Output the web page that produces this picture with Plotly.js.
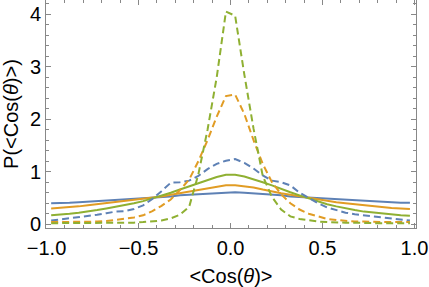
<!DOCTYPE html>
<html>
<head>
<meta charset="utf-8">
<script src="https://cdn.plot.ly/plotly-3.0.1.min.js"></script>
<style>html,body{margin:0;padding:0;background:#fff;}#chart{width:429px;height:287px;}</style>
</head>
<body>
<div id="chart"></div>
<script>
// bin centres of <Cos(theta)>
const cosBins = [-0.975,-0.925,-0.875,-0.825,-0.775,-0.725,-0.675,-0.625,-0.575,-0.525,
  -0.475,-0.425,-0.375,-0.325,-0.275,-0.225,-0.175,-0.125,-0.075,-0.025,
  0.025,0.075,0.125,0.175,0.225,0.275,0.325,0.375,0.425,0.475,
  0.525,0.575,0.625,0.675,0.725,0.775,0.825,0.875,0.925,0.975];

const blueSolid = [0.40,0.40,0.41,0.42,0.43,0.44,0.45,0.46,0.47,0.48,
  0.49,0.50,0.52,0.53,0.55,0.56,0.58,0.59,0.60,0.61,
  0.61,0.60,0.59,0.57,0.56,0.55,0.53,0.52,0.50,0.49,
  0.48,0.47,0.46,0.45,0.44,0.43,0.42,0.42,0.41,0.41];
const orangeSolid = [0.30,0.31,0.33,0.34,0.36,0.38,0.40,0.42,0.44,0.46,
  0.48,0.51,0.53,0.56,0.59,0.63,0.66,0.69,0.72,0.74,
  0.74,0.72,0.70,0.66,0.62,0.59,0.56,0.53,0.50,0.47,
  0.44,0.42,0.40,0.38,0.36,0.34,0.33,0.31,0.30,0.29];
const greenSolid = [0.17,0.18,0.20,0.22,0.24,0.27,0.30,0.33,0.37,0.40,
  0.44,0.49,0.54,0.60,0.66,0.72,0.78,0.84,0.90,0.94,
  0.94,0.91,0.86,0.80,0.74,0.67,0.61,0.55,0.49,0.43,
  0.38,0.34,0.30,0.27,0.24,0.22,0.20,0.19,0.17,0.16];
const blueDashed = [0.07,0.09,0.11,0.13,0.15,0.18,0.21,0.24,0.25,0.29,
  0.36,0.48,0.63,0.79,0.80,0.83,0.92,1.05,1.15,1.21,
  1.24,1.17,1.06,0.93,0.83,0.80,0.74,0.60,0.50,0.40,
  0.32,0.27,0.22,0.19,0.17,0.15,0.14,0.12,0.10,0.07];
const orangeDashed = [0.04,0.04,0.04,0.04,0.04,0.05,0.06,0.08,0.10,0.13,
  0.17,0.25,0.35,0.47,0.65,0.85,1.20,1.60,2.05,2.44,
  2.47,2.10,1.60,1.15,0.80,0.57,0.40,0.28,0.20,0.15,
  0.10,0.08,0.06,0.05,0.05,0.04,0.04,0.04,0.04,0.04];
const greenDashed = [0.02,0.02,0.02,0.02,0.02,0.02,0.02,0.03,0.03,0.03,
  0.04,0.05,0.07,0.11,0.18,0.33,0.95,1.80,2.80,4.05,
  3.97,2.85,1.82,0.92,0.52,0.28,0.15,0.10,0.07,0.05,
  0.04,0.03,0.03,0.03,0.02,0.02,0.02,0.02,0.02,0.02];

const xTickVals = [-1.0,-0.5,0.0,0.5,1.0];
const xTickText = ['\u22121.0','\u22120.5','0.0','0.5','1.0'];
const yTickVals = [0,1,2,3,4];
const yTickText = ['0','1','2','3','4'];

const blue = '#5E81B5', orange = '#E19C24', green = '#8FB032';
const dashPat = '7px,4px';

function tr(y, color, dash) {
  return {x: cosBins, y: y, type: 'scatter', mode: 'lines',
    line: {color: color, width: 2, dash: dash}, hoverinfo: 'skip'};
}

const data = [
  tr(blueSolid, blue, 'solid'),
  tr(orangeSolid, orange, 'solid'),
  tr(greenSolid, green, 'solid'),
  tr(blueDashed, blue, dashPat),
  tr(orangeDashed, orange, dashPat),
  tr(greenDashed, green, dashPat)
];

const font = {family: 'Liberation Sans, Arial, sans-serif', size: 20, color: '#000'};

const layout = {
  width: 429, height: 287,
  margin: {l: 46, r: 13, t: 0, b: 59, pad: 0},
  paper_bgcolor: '#fff', plot_bgcolor: '#fff',
  showlegend: false,
  font: font,
  xaxis: {
    range: [-1.003, 1.008], showgrid: false, zeroline: false,
    showline: true, linecolor: '#888', linewidth: 1, mirror: 'allticks',
    ticks: 'inside', ticklen: 5, tickcolor: '#888', tickwidth: 1,
    ticklabelstandoff: 2,
    tickvals: xTickVals, ticktext: xTickText, tickfont: font,
    minor: {dtick: 0.1, ticks: 'inside', ticklen: 3, tickcolor: '#888', showgrid: false},
    title: {text: '<Cos(<i>θ</i>)>', font: font, standoff: 10}
  },
  yaxis: {
    range: [-0.072, 4.27], showgrid: false, zeroline: false,
    showline: true, linecolor: '#888', linewidth: 1, mirror: 'allticks',
    ticks: 'inside', ticklen: 5, tickcolor: '#888', tickwidth: 1,
    tickvals: yTickVals, ticktext: yTickText, tickfont: font,
    minor: {dtick: 0.2, ticks: 'inside', ticklen: 3, tickcolor: '#888', showgrid: false},
    title: {text: 'P(<Cos(<i>θ</i>)>)', font: font, standoff: 5}
  }
};

Plotly.newPlot('chart', data, layout, {staticPlot: true, displayModeBar: false});
</script>
</body>
</html>
